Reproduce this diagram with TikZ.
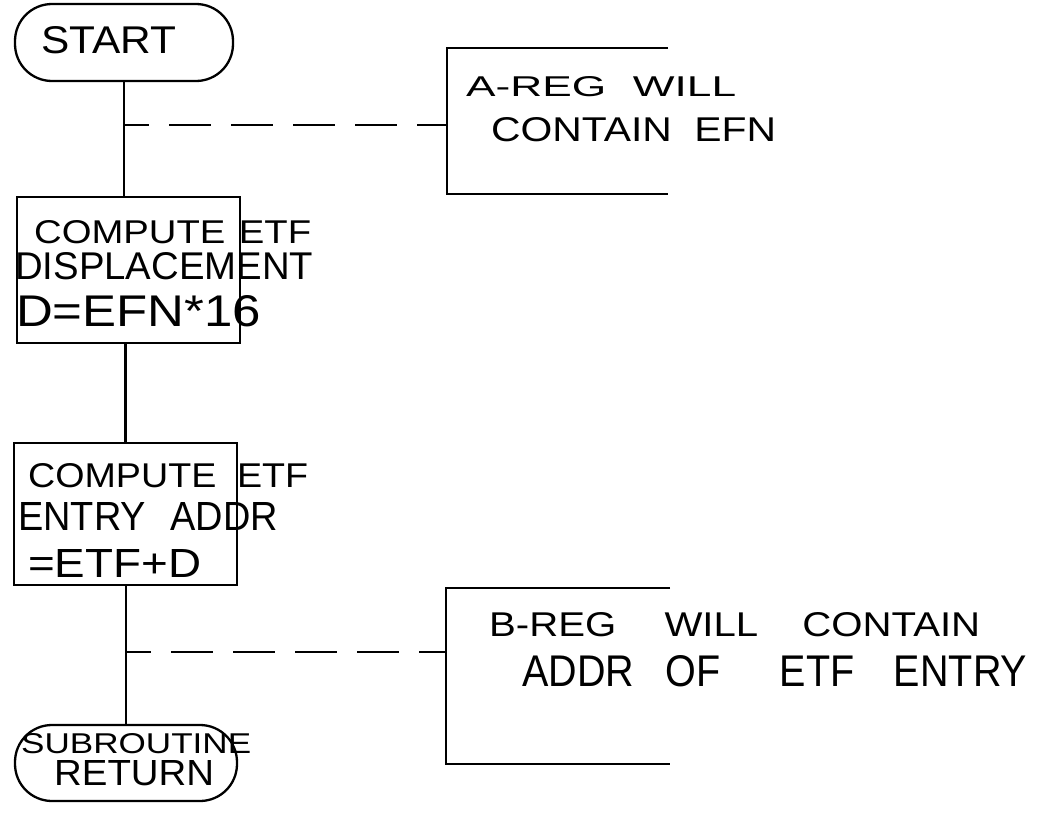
\documentclass[tikz,border=0pt]{standalone}
\usepackage{fontspec}
\setmainfont{Liberation Sans}
\usepackage{graphicx}
\newcommand{\hwtext}[3]{\resizebox{#1pt}{#2pt}{#3}}
\begin{document}
\begin{tikzpicture}[x=1pt,y=-1pt,
  line width=2.3pt,
  term/.style={draw, rounded corners=37pt, inner sep=0pt},
  procbox/.style={draw, inner sep=0pt},
  annarea/.style={inner sep=0pt},
  hand/.style={anchor=base west, inner sep=0pt},
  annline/.style={line width=2.3pt, dash pattern=on 42pt off 20pt, dash phase=17pt}]
\useasboundingbox (0,0) rectangle (1037,814);
\fill[white] (0,0) rectangle (1037,814);

% shapes
\node[term, minimum width=218pt, minimum height=77pt] (start) at (124,42.5) {};
\node[procbox, minimum width=223pt, minimum height=146pt] (box1) at (128.5,270) {};
\node[procbox, minimum width=223pt, minimum height=142pt] (box2) at (125.5,514) {};
\node[term, minimum width=222pt, minimum height=76pt] (ret) at (126,763) {};
\node[annarea, minimum width=219pt, minimum height=144pt] (ann1) at (557.5,121) {};
\node[annarea, minimum width=222pt, minimum height=174pt] (ann2) at (558,676) {};

% annotation brackets
\draw (ann1.north east) -- (ann1.north west) -- (ann1.south west) -- (ann1.south east);
\draw (ann2.north east) -- (ann2.north west) -- (ann2.south west) -- (ann2.south east);

% flow lines
\draw (start.south) -- (start.south |- box1.north);
\draw (box1.south -| box2.north) -- (box2.north);
\draw (box2.south -| ret.north) -- (ret.north);

% annotation connectors
\coordinate (b1) at (124,125);
\coordinate (b2) at (126,652);
\draw[annline] (b1) -- (b1 -| ann1.west);
\draw[annline] (b2) -- (b2 -| ann2.west);

% texts
\node[hand] (tstart) at (40,53) {\hwtext{135}{27}{START}};
\node[hand] (ta1) at (465,96) {\hwtext{270}{20}{A-REG\hspace{0.6em}WILL}};
\node[hand] (ta2) at (490,141) {\hwtext{285}{24}{CONTAIN\hspace{0.55em}EFN}};
\node[hand] (tb1a) at (33,243) {\hwtext{277}{23}{COMPUTE\hspace{0.35em}ETF}};
\node[hand] (tb1b) at (14,279) {\hwtext{298}{27}{DISPLACEMENT}};
\node[hand] (tb1c) at (15,326) {\hwtext{245}{31}{D=EFN*16}};
\node[hand] (tb2a) at (27,487) {\hwtext{280}{24}{COMPUTE\hspace{0.55em}ETF}};
\node[hand] (tb2b) at (17,530) {\hwtext{260}{28}{ENTRY\hspace{0.65em}ADDR}};
\node[hand] (tb2c) at (27,577) {\hwtext{173}{28}{=ETF+D}};
\node[hand] (tn1) at (488,636) {\hwtext{491}{24}{B-REG\hspace{1.2em}WILL\hspace{1.1em}CONTAIN}};
\node[hand] (tn2) at (521,686) {\hwtext{505}{31}{ADDR\hspace{0.8em}OF\hspace{1.5em}ETF\hspace{1.0em}ENTRY}};
\node[hand] (tr1) at (20,753) {\hwtext{230}{20}{SUBROUTINE}};
\node[hand] (tr2) at (53,785) {\hwtext{160}{25}{RETURN}};
\end{tikzpicture}
\end{document}
